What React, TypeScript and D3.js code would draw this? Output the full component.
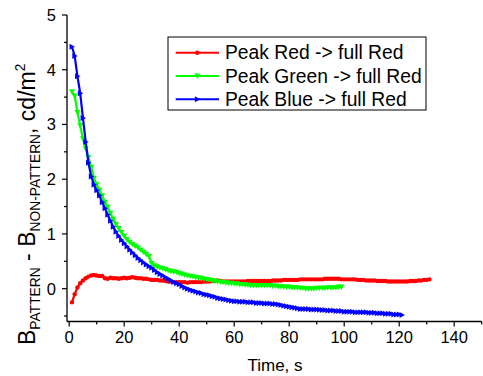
import React, { useLayoutEffect, useRef, useState } from "react";
import * as d3 from "d3";

const seriesNames = ["Peak Red -> full Red", "Peak Green -> full Red", "Peak Blue -> full Red"];
const seriesColors = ["#ff0000", "#00ff00", "#0000ff"];

// values sampled each second starting at t = 1 s
const redValues = [
  -0.25, -0.10, 0.02, 0.10, 0.15, 0.19, 0.22, 0.24, 0.25, 0.24,
  0.23, 0.23, 0.19, 0.18, 0.20, 0.19, 0.19, 0.18, 0.19, 0.20,
  0.19, 0.20, 0.21, 0.20, 0.19, 0.19, 0.18, 0.18, 0.17, 0.16,
  0.16, 0.16, 0.15, 0.15, 0.14, 0.13, 0.13, 0.12, 0.12, 0.12,
  0.12, 0.12, 0.11, 0.12, 0.12, 0.12, 0.12, 0.12, 0.13, 0.13,
  0.13, 0.14, 0.14, 0.15, 0.14, 0.13, 0.13, 0.13, 0.13, 0.13,
  0.13, 0.13, 0.13, 0.13, 0.14, 0.14, 0.14, 0.14, 0.14, 0.14,
  0.14, 0.14, 0.14, 0.15, 0.15, 0.15, 0.15, 0.16, 0.16, 0.16,
  0.16, 0.16, 0.16, 0.17, 0.17, 0.17, 0.17, 0.17, 0.17, 0.17,
  0.17, 0.17, 0.18, 0.18, 0.18, 0.18, 0.18, 0.18, 0.17, 0.17,
  0.17, 0.17, 0.17, 0.17, 0.16, 0.16, 0.16, 0.15, 0.15, 0.15,
  0.15, 0.14, 0.14, 0.14, 0.14, 0.13, 0.13, 0.13, 0.13, 0.13,
  0.13, 0.13, 0.13, 0.14, 0.14, 0.14, 0.15, 0.15, 0.16, 0.16,
  0.17,
];

const greenValues = [
  3.60, 3.52, 3.22, 2.98, 2.74, 2.56, 2.40, 2.22, 2.02, 1.90,
  1.80, 1.70, 1.58, 1.49, 1.38, 1.27, 1.18, 1.10, 1.03, 0.96,
  0.90, 0.85, 0.81, 0.78, 0.75, 0.71, 0.67, 0.63, 0.59, 0.46,
  0.42, 0.40, 0.38, 0.37, 0.35, 0.33, 0.32, 0.31, 0.30, 0.28,
  0.27, 0.25, 0.24, 0.23, 0.22, 0.21, 0.20, 0.19, 0.18, 0.17,
  0.16, 0.15, 0.14, 0.13, 0.12, 0.12, 0.11, 0.10, 0.10, 0.09,
  0.09, 0.08, 0.08, 0.07, 0.07, 0.06, 0.06, 0.06, 0.06, 0.06,
  0.06, 0.06, 0.06, 0.05, 0.05, 0.04, 0.04, 0.03, 0.03, 0.03,
  0.02, 0.02, 0.02, 0.01, 0.01, 0.00, 0.00, 0.00, 0.00, 0.01,
  0.01, 0.01, 0.01, 0.02, 0.02, 0.02, 0.02, 0.03, 0.03,
];

const blueValues = [
  4.42, 4.25, 3.88, 3.57, 3.12, 2.68, 2.30, 2.05, 1.90, 1.80,
  1.70, 1.58, 1.47, 1.35, 1.24, 1.13, 1.04, 0.96, 0.89, 0.83,
  0.77, 0.71, 0.66, 0.61, 0.56, 0.52, 0.48, 0.44, 0.41, 0.38,
  0.34, 0.30, 0.27, 0.24, 0.21, 0.18, 0.15, 0.12, 0.10, 0.08,
  0.05, 0.02, 0.00, -0.02, -0.04, -0.05, -0.07, -0.08, -0.10, -0.11,
  -0.12, -0.14, -0.15, -0.17, -0.18, -0.19, -0.20, -0.21, -0.22, -0.23,
  -0.23, -0.24, -0.24, -0.24, -0.25, -0.25, -0.25, -0.26, -0.26, -0.26,
  -0.27, -0.27, -0.27, -0.28, -0.28, -0.29, -0.30, -0.31, -0.32, -0.33,
  -0.34, -0.35, -0.36, -0.37, -0.37, -0.37, -0.37, -0.38, -0.38, -0.38,
  -0.385, -0.39, -0.39, -0.40, -0.40, -0.40, -0.41, -0.41, -0.41, -0.42,
  -0.42, -0.42, -0.42, -0.43, -0.43, -0.43, -0.43, -0.43, -0.44, -0.44,
  -0.44, -0.45, -0.45, -0.45, -0.46, -0.46, -0.46, -0.47, -0.47, -0.47,
  -0.48,
];
const startTime = 1;

const xTicks = [0, 20, 40, 60, 80, 100, 120, 140];
const xMinorTicks = [10, 30, 50, 70, 90, 110, 130, 150];
const yTicks = [0, 1, 2, 3, 4, 5];
const yMinorTicks = [-0.5, 0.5, 1.5, 2.5, 3.5, 4.5];

const W = 483;
const H = 376;
const FONT = "'Liberation Sans', Arial, sans-serif";

function markerPath(kind: number, x: number, y: number): string {
  if (kind === 0) {
    const r = 2.2;
    return `M${x - r},${y}a${r},${r} 0 1,0 ${2 * r},0a${r},${r} 0 1,0 ${-2 * r},0Z`;
  }
  if (kind === 1) {
    const s = 3;
    return `M${x - s},${y - s * 0.8}L${x + s},${y - s * 0.8}L${x},${y + s}Z`;
  }
  const s = 3;
  return `M${x - s * 0.8},${y - s}L${x + s},${y}L${x - s * 0.8},${y + s}Z`;
}

export default function App() {
  const x = d3.scaleLinear().domain([-0.8, 150]).range([67, 481.7]);
  const y = d3.scaleLinear().domain([-0.6, 5]).range([321.5, 15]);
  const all = [redValues, greenValues, blueValues];
  const line = d3
    .line<number>()
    .x((_, i) => x(startTime + i))
    .y((d) => y(d));

  const legendX = 168;
  const legendY = 37;
  const legendRows = [52.7, 76, 99.3];

  const labelRef = useRef<SVGTextElement>(null);
  const [labelTf, setLabelTf] = useState("translate(32,204) rotate(-90)");
  useLayoutEffect(() => {
    const el = labelRef.current;
    if (!el) return;
    const bb = el.getBBox();
    const s = 282 / bb.width;
    const cx = bb.x + bb.width / 2;
    const cy = bb.y + bb.height / 2;
    setLabelTf(`translate(28,204) rotate(-90) scale(${s}) translate(${-cx},${-cy})`);
  }, []);

  return (
    <svg width={W} height={H} style={{ position: "absolute", left: 0, top: 0, background: "#fff" }} fontFamily={FONT}>
      <rect width={W} height={H} fill="#fff" />
      {/* series */}
      {all.map((vals, k) => (
        <g key={k}>
          <path d={line(vals) || ""} fill="none" stroke={seriesColors[k]} strokeWidth={2.2} />
          {vals.map((v, i) => (
            <path key={i} d={markerPath(k, x(startTime + i), y(v))} fill={seriesColors[k]} />
          ))}
        </g>
      ))}
      {/* axes */}
      <line x1={x.range()[0]} x2={x.range()[1]} y1={321.5} y2={321.5} stroke="#000" strokeWidth={1.3} />
      <line x1={67} x2={67} y1={y.range()[0]} y2={y.range()[1]} stroke="#000" strokeWidth={1.3} />
      {xTicks.map((t) => (
        <g key={t}>
          <line x1={x(t)} x2={x(t)} y1={321.5} y2={326.5} stroke="#000" strokeWidth={1.2} />
          <text x={x(t)} y={343} textAnchor="middle" fontSize={16.5} fill="#000">
            {t}
          </text>
        </g>
      ))}
      {xMinorTicks.map((t) => (
        <line key={t} x1={x(t)} x2={x(t)} y1={321.5} y2={324.5} stroke="#000" strokeWidth={1.2} />
      ))}
      {yTicks.map((t) => (
        <g key={t}>
          <line x1={62} x2={67} y1={y(t)} y2={y(t)} stroke="#000" strokeWidth={1.2} />
          <text x={56} y={y(t) + 6} textAnchor="end" fontSize={16.5} fill="#000">
            {t}
          </text>
        </g>
      ))}
      {yMinorTicks.map((t) => (
        <line key={t} x1={64} x2={67} y1={y(t)} y2={y(t)} stroke="#000" strokeWidth={1.2} />
      ))}
      {/* axis titles */}
      <text x={275} y={371} textAnchor="middle" fontSize={17} fill="#000">
        Time, s
      </text>
      <text ref={labelRef} transform={labelTf} fontSize={20} fill="#000">
        <tspan>B</tspan>
        <tspan fontSize={12} dy={4}>PATTERN</tspan>
        <tspan dy={-4}> - B</tspan>
        <tspan fontSize={12} dy={4}>NON-PATTERN</tspan>
        <tspan dy={-4}>, cd/m</tspan>
        <tspan fontSize={12} dy={-9}>2</tspan>
      </text>
      {/* legend */}
      <rect x={legendX} y={legendY} width={258} height={73} fill="#fff" stroke="#000" strokeWidth={1} />
      {seriesNames.map((name, k) => (
        <g key={name}>
          <line x1={175.7} x2={219} y1={legendRows[k]} y2={legendRows[k]} stroke={seriesColors[k]} strokeWidth={2} />
          <path d={markerPath(k, 197.3, legendRows[k])} fill={seriesColors[k]} />
          <text x={225} y={legendRows[k] + 6.5} fontSize={19.3} fill="#000">
            {name}
          </text>
        </g>
      ))}
    </svg>
  );
}
